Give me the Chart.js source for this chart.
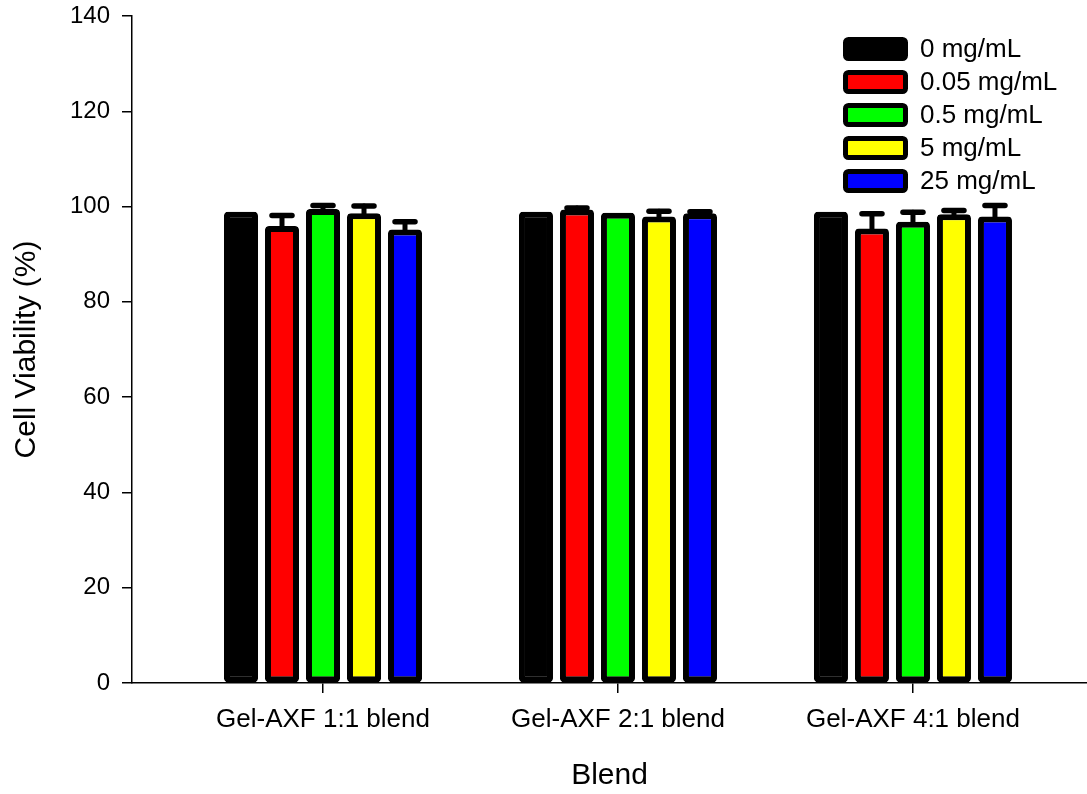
<!DOCTYPE html>
<html>
<head>
<meta charset="utf-8">
<title>Cell Viability</title>
<script src="https://cdn.jsdelivr.net/npm/chart.js@4.4.1/dist/chart.umd.min.js"></script>
<style>
    html, body { margin: 0; padding: 0; background: #fff; overflow: hidden; }
    #wrap { width: 1087px; height: 794px; position: relative; }
</style>
</head>
<body>
<div id="wrap"><canvas id="viabilityChart"></canvas></div>
<script>
// Data
const categories = ['Gel-AXF 1:1 blend', 'Gel-AXF 2:1 blend', 'Gel-AXF 4:1 blend'];
const groupPositions = [1, 2, 3];
const yTicks = [0, 20, 40, 60, 80, 100, 120, 140];

const seriesLabels = ['0 mg/mL', '0.05 mg/mL', '0.5 mg/mL', '5 mg/mL', '25 mg/mL'];
const seriesColors = ['#000000', '#ff0000', '#00ff00', '#ffff00', '#0000ff'];

const conc0 = [98.9, 98.9, 98.9];
const conc005 = [95.9, 99.4, 95.4];
const conc05 = [99.5, 98.7, 96.8];
const conc5 = [98.6, 97.9, 98.4];
const conc25 = [95.2, 98.6, 97.9];

const err0 = [0, 0, 0];
const err005 = [2.2, 0.3, 3.1];
const err05 = [0.7, 0, 2.0];
const err5 = [1.5, 1.1, 0.8];
const err25 = [1.6, 0.3, 2.3];

const seriesValues = [conc0, conc005, conc05, conc5, conc25];
const seriesErrors = [err0, err005, err05, err5, err25];

const FONT = "'Liberation Sans', Arial, Helvetica, sans-serif";

// Upper error bars (SigmaPlot style)
const errorBarPlugin = {
    id: 'errorBars',
    afterDatasetsDraw(chart) {
        const ctx = chart.ctx;
        const yScale = chart.scales.y;
        ctx.save();
        ctx.strokeStyle = '#000';
        ctx.lineCap = 'round';
        chart.data.datasets.forEach((ds, di) => {
            const meta = chart.getDatasetMeta(di);
            meta.data.forEach((bar, i) => {
                const sd = ds.errors[i];
                if (!sd) return;
                const yTop = yScale.getPixelForValue(ds.data[i].y + sd);
                ctx.lineWidth = 5;
                ctx.beginPath();
                ctx.moveTo(bar.x, bar.y);
                ctx.lineTo(bar.x, yTop);
                ctx.stroke();
                ctx.lineWidth = 5.5;
                ctx.beginPath();
                ctx.moveTo(bar.x - 10, yTop);
                ctx.lineTo(bar.x + 10, yTop);
                ctx.stroke();
            });
        });
        ctx.restore();
    }
};

// Legend inside the plot, top right
const boxLegendPlugin = {
    id: 'boxLegend',
    afterDraw(chart) {
        const ctx = chart.ctx;
        const x = 843, top = 37, w = 65, h = 24, step = 33;
        ctx.save();
        chart.data.datasets.forEach((ds, i) => {
            const y = top + i * step;
            ctx.beginPath();
            ctx.roundRect(x + 2.5, y + 2.5, w - 5, h - 5, 3);
            ctx.fillStyle = ds.backgroundColor;
            ctx.fill();
            ctx.lineWidth = 5;
            ctx.strokeStyle = '#000';
            ctx.stroke();
            ctx.fillStyle = '#000';
            ctx.font = '26px ' + FONT;
            ctx.textBaseline = 'middle';
            ctx.textAlign = 'left';
            ctx.fillText(ds.label, 920, y + h / 2 + 1);
        });
        ctx.restore();
    }
};

const datasets = seriesLabels.map((label, s) => ({
    label: label,
    data: groupPositions.map((x, i) => ({ x: x, y: seriesValues[s][i] })),
    errors: seriesErrors[s],
    backgroundColor: seriesColors[s],
    borderColor: '#000000',
    borderWidth: 6,
    borderRadius: 4,
    borderSkipped: false,
    categoryPercentage: 0.695,
    barPercentage: 0.83
}));

new Chart(document.getElementById('viabilityChart'), {
    type: 'bar',
    data: { datasets: datasets },
    options: {
        responsive: true,
        maintainAspectRatio: false,
        animation: false,
        layout: { padding: { top: 16, right: 0, left: 0, bottom: 0 } },
        plugins: {
            legend: { display: false },
            tooltip: { enabled: false }
        },
        scales: {
            x: {
                type: 'linear',
                min: 0.3525,
                max: 3.59,
                offset: false,
                afterBuildTicks: (scale) => {
                    scale.ticks = groupPositions.map(v => ({ value: v }));
                },
                afterFit: (scale) => {
                    scale.height = 111;
                    scale.paddingLeft = 0;
                    scale.paddingRight = 0;
                },
                grid: { offset: false, drawOnChartArea: false, drawTicks: true, tickLength: 10, color: '#000', lineWidth: 1.5 },
                border: { display: true, color: '#000', width: 1.5 },
                ticks: {
                    color: '#000',
                    font: { family: FONT, size: 26 },
                    padding: 11,
                    maxRotation: 0,
                    autoSkip: false,
                    callback: (v) => categories[groupPositions.indexOf(v)] || ''
                },
                title: {
                    display: true,
                    text: 'Blend',
                    color: '#000',
                    font: { family: FONT, size: 30 },
                    padding: { top: 0, bottom: 0 }
                }
            },
            y: {
                min: 0,
                max: 140,
                afterBuildTicks: (scale) => {
                    scale.ticks = yTicks.map(v => ({ value: v }));
                },
                afterFit: (scale) => {
                    scale.width = 132;
                    scale.paddingTop = 0;
                    scale.paddingBottom = 0;
                },
                grid: { drawOnChartArea: false, drawTicks: true, tickLength: 10, color: '#000', lineWidth: 1.5 },
                border: { display: true, color: '#000', width: 1.5 },
                ticks: {
                    color: '#000',
                    font: { family: FONT, size: 24 },
                    padding: 12
                },
                title: {
                    display: true,
                    text: 'Cell Viability (%)',
                    color: '#000',
                    font: { family: FONT, size: 30 },
                    padding: { top: 9, bottom: 0 }
                }
            }
        }
    },
    plugins: [errorBarPlugin, boxLegendPlugin]
});
</script>
</body>
</html>
